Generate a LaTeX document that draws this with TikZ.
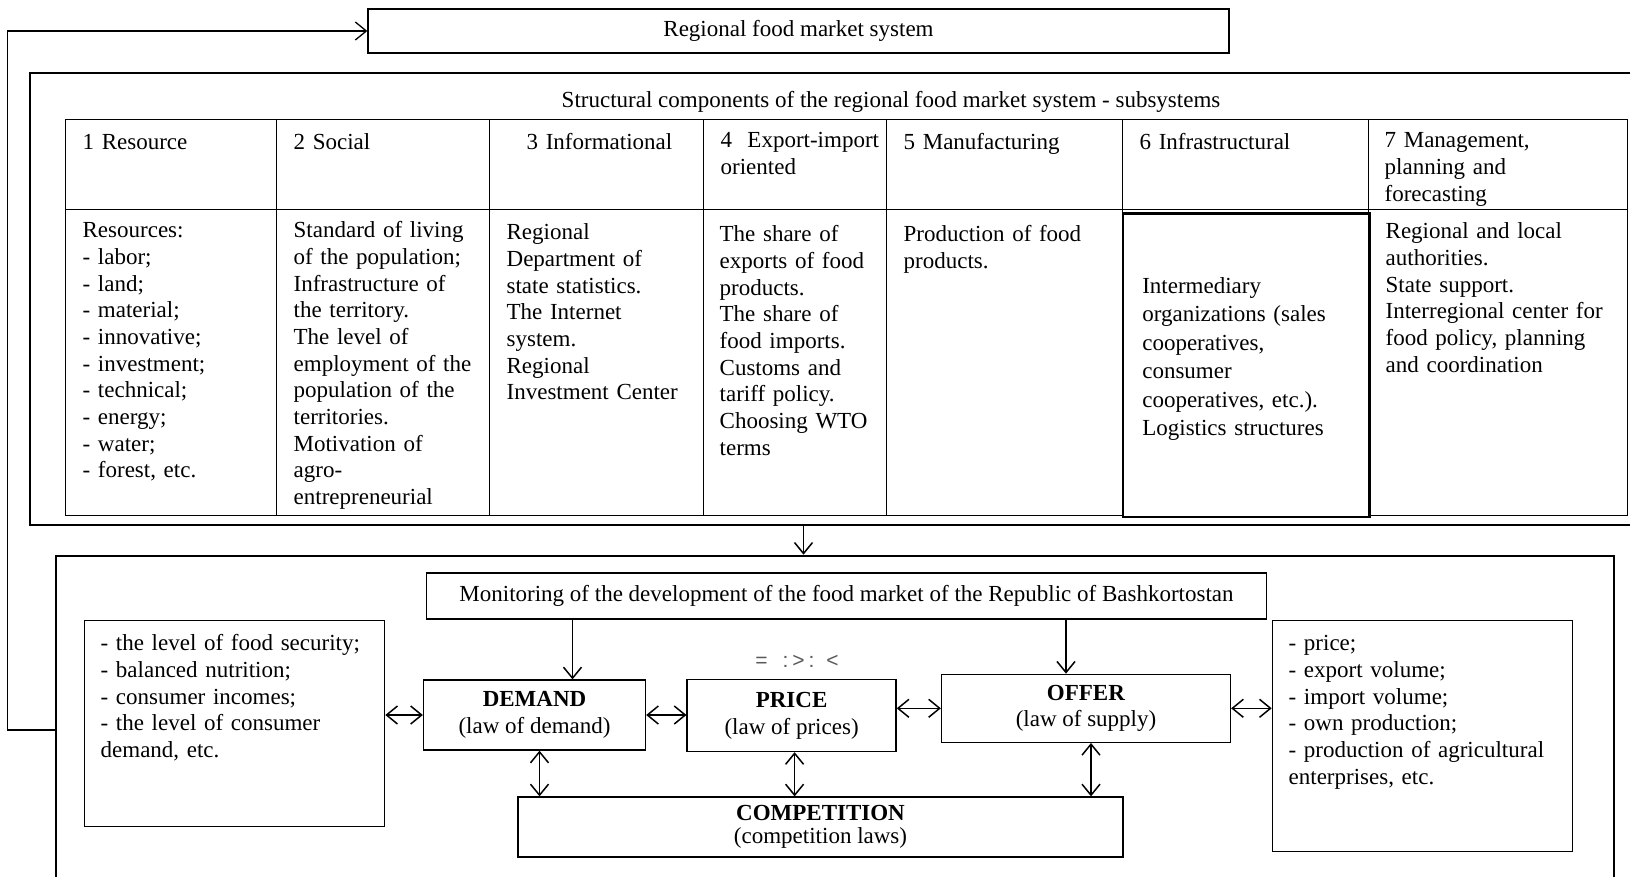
\documentclass[tikz,border=0pt]{standalone}
\usepackage{fontspec}
\setmainfont{Liberation Serif}
\newfontfamily\signfont{Liberation Sans}
\usetikzlibrary{arrows.meta}

\tikzset{
  frame/.style={draw, line width=2.6pt, inner sep=0pt},
  box/.style={draw, line width=1.3pt, inner sep=0pt},
  cell/.style={draw, line width=1.3pt, anchor=north west, inner ysep=0pt, align=left},
  head/.style={cell, text height=30.5pt, text depth=59.5pt},
  body/.style={cell, text height=28.5pt, text depth=277.5pt},
  listbox/.style={box, anchor=north west, inner xsep=16pt, inner ysep=0pt, align=left},
  lawbox/.style={box, align=center},
  link/.style={->, line width=1.5pt},
  twoway/.style={<->, line width=1.5pt},
}

\begin{document}
\begin{tikzpicture}[x=1pt, y=-1pt, >={Straight Barb[length=11pt,width=18pt]},
  font=\fontsize{23}{26.7}\selectfont]
\useasboundingbox (0,0) rectangle (1630,876);
\clip (0,0) rectangle (1630,876);

% whole system and its subsystems
\node[box, minimum width=861pt, minimum height=44pt] (sys) at (798.5,31) {Regional food market system};
\node[frame, minimum width=1620pt, minimum height=452pt] (subsys) at (840,299) {};
\node[anchor=base] (subtitle) at (891,107) {Structural components of the regional food market system - subsystems};

\node[head, inner xsep=17.5pt, text width=176pt] (h1) at (64.5,118.5) {1 Resource};
\node[head, inner xsep=17.5pt, text width=178pt] (h2) at (275.5,118.5) {2 Social};
\node[head, inner xsep=17.5pt, text width=179pt] (h3) at (488.5,118.5) {\hspace*{20pt}3 Informational};
\node[head, inner xsep=17.5pt, text width=148pt, text height=28.5pt, text depth=61.5pt] (h4) at (702.5,118.5) {\mbox{4~~Export-import}\\oriented};
\node[head, inner xsep=17.5pt, text width=201pt] (h5) at (885.5,118.5) {5 Manufacturing};
\node[head, inner xsep=17.5pt, text width=211.5pt] (h6) at (1121.5,118.5) {6 Infrastructural};
\node[head, inner xsep=16pt, text width=227pt, text height=28.5pt, text depth=61.5pt] (h7) at (1368,118.5) {7 Management,\\planning and\\forecasting};

\node[body, inner xsep=17.5pt, text width=176pt] (b1) at (64.5,208.5) {Resources:\\- labor;\\- land;\\- material;\\- innovative;\\- investment;\\- technical;\\- energy;\\- water;\\- forest, etc.};
\node[body, inner xsep=17.5pt, text width=178pt] (b2) at (275.5,208.5) {Standard of living\\of the population;\\Infrastructure of\\the territory.\\The level of\\employment of the\\population of the\\territories.\\Motivation of\\agro-\\entrepreneurial};
\node[body, inner xsep=17.5pt, text width=179pt, text height=30.5pt, text depth=275.5pt] (b3) at (488.5,208.5) {Regional\\Department of\\state statistics.\\The Internet\\system.\\Regional\\Investment Center};
\node[body, inner xsep=16.5pt, text width=150pt, text height=32.5pt, text depth=273.5pt] (b4) at (702.5,208.5) {The share of\\exports of food\\products.\\The share of\\food imports.\\Customs and\\tariff policy.\\Choosing WTO\\terms};
\node[body, inner xsep=17.5pt, text width=201pt, text height=32.5pt, text depth=273.5pt] (b5) at (885.5,208.5) {Production of food\\products.};
\node[body, inner xsep=17pt, text width=225pt, text height=29.5pt, text depth=276.5pt] (b7) at (1368,208.5) {Regional and local\\authorities.\\State support.\\Interregional center for\\food policy, planning\\and coordination};
\node[body, line width=2.6pt, inner xsep=19.5pt, text width=207.5pt, text height=80pt, text depth=223.5pt,
  font=\fontsize{23}{28.5}\selectfont] (b6) at (1121.5,212) {Intermediary\\organizations (sales\\cooperatives,\\consumer\\cooperatives, etc.).\\Logistics structures};

% monitoring of the market
\node[frame, minimum width=1558pt, minimum height=348pt] (market) at (835,730) {};
\draw[link] ([xshift=5pt]sys.south |- subsys.south) -- ([xshift=5pt]sys.south |- market.north);
\draw[line width=1.3pt, ->] (market.west) -- ++(-47,0) |- (sys.west);

\node[box, minimum width=840pt, minimum height=46pt] (mon) at (846.5,596) {Monitoring of the development of the food market of the Republic of Bashkortostan};
\node[listbox, text width=268pt, text height=30pt, text depth=176pt] (needs) at (84,620) {- the level of food security;\\- balanced nutrition;\\- consumer incomes;\\- the level of consumer\\demand, etc.};
\node[listbox, inner xsep=16.3pt, text width=267.4pt, text height=30pt, text depth=200.7pt] (supp) at (1271.7,620) {- price;\\- export volume;\\- import volume;\\- own production;\\- production of agricultural\\enterprises, etc.};

\node[lawbox, minimum width=222pt, minimum height=70pt] (dem) at (534.5,715) {\textbf{DEMAND}\\(law of demand)};
\node[lawbox, minimum width=209pt, minimum height=72pt] (price) at (791.6,715.5) {\textbf{PRICE}\\(law of prices)};
\node[lawbox, minimum width=289pt, minimum height=68pt] (offer) at (1086,708.3) {\textbf{OFFER}\\(law of supply)};
\node[lawbox, minimum width=605pt, minimum height=60pt, font=\fontsize{23}{23}\selectfont] (comp) at (820.5,827) {\textbf{COMPETITION}\\(competition laws)};
\node[anchor=base, font=\signfont\fontsize{21}{21}\selectfont, text=black!65] (rel) at (797,667) {=\hspace{15pt}:\hspace{4pt}>\hspace{4pt}:\hspace{12pt}<};

\draw[link] ([xshift=38pt]dem.north |- mon.south) -- ([xshift=38pt]dem.north);
\draw[link] ([xshift=-20pt]offer.north |- mon.south) -- ([xshift=-20pt]offer.north);
\draw[twoway] (needs.east |- dem.west) -- (dem.west);
\draw[twoway] (dem.east) -- (dem.east -| price.west);
\draw[twoway] (price.east |- offer.west) -- (offer.west);
\draw[twoway] (offer.east) -- (offer.east -| supp.west);
\draw[twoway] ([xshift=5pt]dem.south) -- ([xshift=5pt]dem.south |- comp.north);
\draw[twoway] ([xshift=3pt]price.south) -- ([xshift=3pt]price.south |- comp.north);
\draw[twoway] ([xshift=5pt]offer.south) -- ([xshift=5pt]offer.south |- comp.north);
\end{tikzpicture}
\end{document}
